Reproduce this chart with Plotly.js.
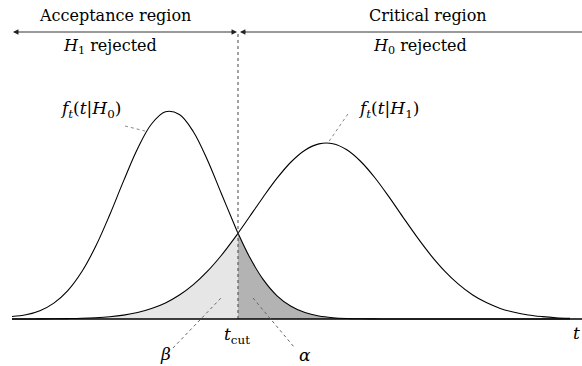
<!DOCTYPE html>
<html>
<head>
<meta charset="utf-8">
<script src="https://cdn.plot.ly/plotly-3.0.1.min.js"></script>
<style>html,body{margin:0;padding:0;background:#fff;}#chart{width:582px;height:366px;}</style>
</head>
<body>
<div id="chart"></div>
<script>
// sample positions along t
var tGrid = [0,0.25,0.5,0.75,1,1.25,1.5,1.75,2,2.25,2.5,2.75,3,3.25,3.5,3.75,4,4.05,4.25,4.5,4.75,5,5.25,5.5,5.75,6,6.25,6.5,6.75,7,7.25,7.5,7.75,8,8.25,8.5,8.75,9,9.25,9.5,9.75,10];
// f_t(t|H0) heights
var h0Vals = [0.025,0.042,0.083,0.159,0.284,0.472,0.727,1.040,1.381,1.703,1.950,2.072,2.045,1.873,1.593,1.257,0.922,0.858,0.627,0.396,0.232,0.127,0.064,0.030,0.013,0.005,0.002,0.001,0,0,0,0,0,0,0,0,0,0,0,0,0,0];
// f_t(t|H1) heights
var h1Vals = [0,0,0.001,0.002,0.004,0.007,0.013,0.023,0.039,0.065,0.105,0.161,0.240,0.344,0.476,0.635,0.818,0.857,1.017,1.218,1.408,1.570,1.688,1.751,1.753,1.692,1.575,1.415,1.226,1.024,0.826,0.642,0.482,0.349,0.243,0.164,0.106,0.067,0.040,0.024,0.013,0.007];
var tCut = 4.05;
var cutIndex = tGrid.indexOf(tCut);

var serif = "DejaVu Serif";

var betaX = tGrid.slice(0, cutIndex + 1), betaY = h1Vals.slice(0, cutIndex + 1);
var alphaX = tGrid.slice(cutIndex), alphaY = h0Vals.slice(cutIndex);

var traces = [
  {x: betaX, y: betaY, type: 'scatter', mode: 'lines', fill: 'tozeroy', fillcolor: '#e6e6e6',
   line: {width: 0, shape: 'spline', color: '#e6e6e6'}, hoverinfo: 'skip'},
  {x: alphaX, y: alphaY, type: 'scatter', mode: 'lines', fill: 'tozeroy', fillcolor: '#b3b3b3',
   line: {width: 0, shape: 'spline', color: '#b3b3b3'}, hoverinfo: 'skip'},
  {x: tGrid, y: h0Vals, type: 'scatter', mode: 'lines', line: {color: '#000', width: 1.1, shape: 'spline'}},
  {x: tGrid, y: h1Vals, type: 'scatter', mode: 'lines', line: {color: '#000', width: 1.1, shape: 'spline'}}
];

var arrowY = 2.87;
var shapes = [
  {type: 'line', xref: 'x', yref: 'y', x0: tCut, x1: tCut, y0: 0, y1: arrowY - 0.02, line: {color: '#444', width: 1, dash: 'dot'}},
  {type: 'line', xref: 'x', yref: 'y', x0: 0, x1: 10.215, y0: 0, y1: 0, line: {color: '#000', width: 1.6}},
  {type: 'line', xref: 'x', yref: 'y', x0: 0.05, x1: 4.0, y0: arrowY, y1: arrowY, line: {color: '#777', width: 1.3}},
  {type: 'line', xref: 'x', yref: 'y', x0: 4.12, x1: 10.215, y0: arrowY, y1: arrowY, line: {color: '#777', width: 1.3}},
  // leader lines
  {type: 'line', xref: 'x', yref: 'y', x0: 2.025, y0: 1.93, x1: 2.383, y1: 1.88, line: {color: '#888', width: 1, dash: 'dot'}},
  {type: 'line', xref: 'x', yref: 'y', x0: 6.02, y0: 2.05, x1: 5.66, y1: 1.76, line: {color: '#888', width: 1, dash: 'dot'}},
  {type: 'line', xref: 'x', yref: 'y', x0: 2.885, y0: -0.29, x1: 3.746, y1: 0.21, line: {color: '#666', width: 1, dash: 'dot'}},
  {type: 'line', xref: 'x', yref: 'y', x0: 4.319, y0: 0.21, x1: 5.054, y1: -0.28, line: {color: '#666', width: 1, dash: 'dot'}}
];

function txt(x, y, t, size) {
  return {x: x, y: y, xref: 'x', yref: 'y', text: t, showarrow: false,
          font: {family: serif, size: size || 16, color: '#000'}, xanchor: 'center', yanchor: 'middle'};
}
function head(x, y, dir) {
  return {x: x, y: y, xref: 'x', yref: 'y', ax: dir * 7, ay: 0, axref: 'pixel', ayref: 'pixel', text: '',
          showarrow: true, arrowhead: 2, arrowsize: 0.9, arrowwidth: 1.2, arrowcolor: '#222'};
}

var annotations = [
  txt(1.846, 3.04, 'Acceptance region'),
  txt(7.455, 3.04, 'Critical region'),
  txt(1.756, 2.73, '<i>H</i><sub>1</sub> rejected'),
  txt(7.31, 2.73, '<i>H</i><sub>0</sub> rejected'),
  txt(1.40, 2.10, '<i>f</i><sub><i>t</i></sub>(<i>t</i>|<i>H</i><sub>0</sub>)', 17),
  txt(6.75, 2.10, '<i>f</i><sub><i>t</i></sub>(<i>t</i>|<i>H</i><sub>1</sub>)', 17),
  txt(2.742, -0.35, '<i>β</i>', 17),
  txt(5.25, -0.36, '<i>α</i>', 17),
  txt(4.03, -0.165, '<i>t</i><sub>cut</sub>', 17),
  txt(10.125, -0.14, '<i>t</i>', 17),
  head(0.018, arrowY, 1),
  head(4.032, arrowY, -1),
  head(4.086, arrowY, 1)
];

var layout = {
  width: 582, height: 366,
  margin: {l: 0, r: 0, t: 0, b: 0},
  paper_bgcolor: '#fff', plot_bgcolor: '#fff',
  showlegend: false,
  font: {family: serif},
  xaxis: {range: [-0.2151, 10.215], visible: false, fixedrange: true},
  yaxis: {range: [-0.47, 3.19], visible: false, fixedrange: true},
  shapes: shapes,
  annotations: annotations
};

Plotly.newPlot('chart', traces, layout, {displayModeBar: false, staticPlot: true});
</script>
</body>
</html>
